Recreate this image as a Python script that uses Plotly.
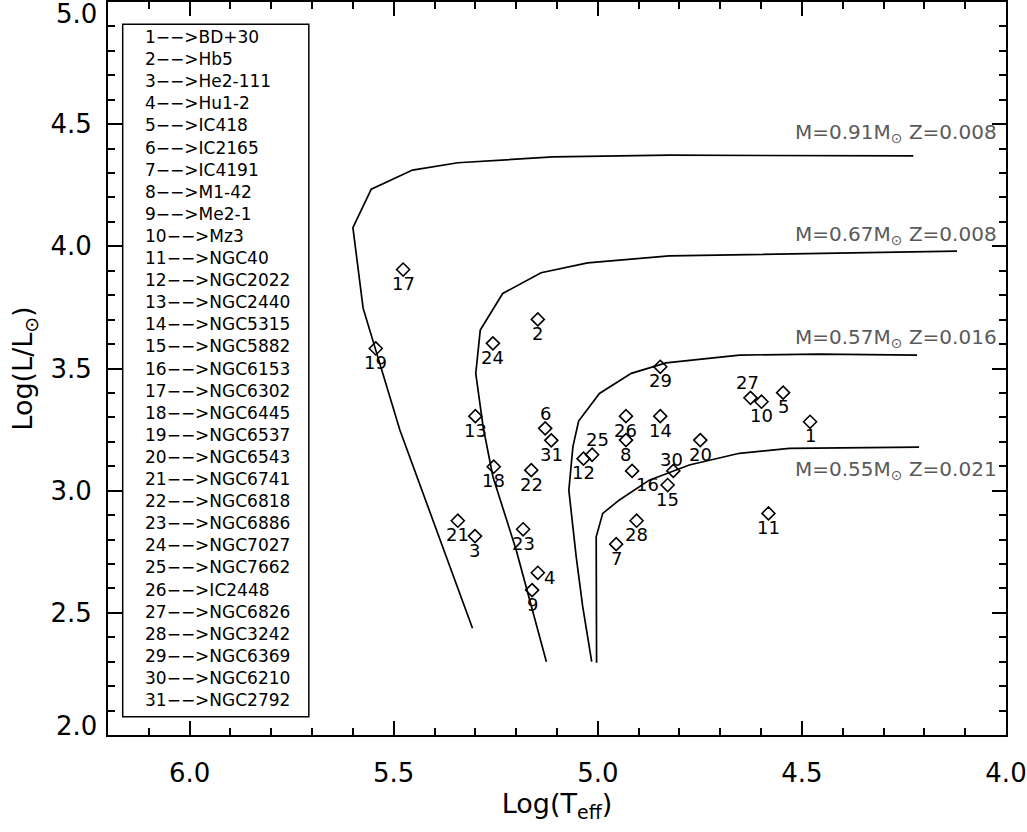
import plotly.graph_objects as go

# planetary nebulae: id, name, log Teff, log L/Lsun
pn_ids = list(range(1, 32))
pn_names = ["BD+30", "Hb5", "He2-111", "Hu1-2", "IC418", "IC2165", "IC4191",
            "M1-42", "Me2-1", "Mz3", "NGC40", "NGC2022", "NGC2440", "NGC5315",
            "NGC5882", "NGC6153", "NGC6302", "NGC6445", "NGC6537", "NGC6543",
            "NGC6741", "NGC6818", "NGC6886", "NGC7027", "NGC7662", "IC2448",
            "NGC6826", "NGC3242", "NGC6369", "NGC6210", "NGC2792"]
log_teff = [4.480, 5.147, 5.301, 5.147, 4.546, 5.129, 4.955, 4.931, 5.161, 4.599,
            4.582, 5.035, 5.300, 4.847, 4.829, 4.916, 5.477, 5.255, 5.544, 4.749,
            5.343, 5.163, 5.183, 5.257, 5.014, 4.931, 4.626, 4.905, 4.847, 4.815,
            5.114]
log_lum = [3.282, 3.701, 2.814, 2.664, 3.401, 3.255, 2.781, 3.207, 2.593, 3.364,
           2.907, 3.131, 3.305, 3.305, 3.023, 3.081, 3.905, 3.098, 3.582, 3.207,
           2.877, 3.084, 2.842, 3.603, 3.147, 3.305, 3.380, 2.877, 3.507, 3.081,
           3.206]

# post-AGB evolutionary tracks
trk091_x = [5.307, 5.485, 5.575, 5.600, 5.555, 5.454, 5.343, 5.110, 4.825, 4.227]
trk091_y = [2.437, 3.248, 3.747, 4.077, 4.234, 4.312, 4.342, 4.366, 4.373, 4.370]
trk067_x = [5.126, 5.200, 5.257, 5.281, 5.299, 5.288, 5.233, 5.139, 5.025, 4.825, 4.120]
trk067_y = [2.300, 2.757, 3.057, 3.261, 3.480, 3.657, 3.807, 3.892, 3.932, 3.961, 3.980]
trk057_x = [5.015, 5.037, 5.053, 5.071, 5.061, 5.047, 4.996, 4.918, 4.833, 4.653, 4.457, 4.218]
trk057_y = [2.300, 2.525, 2.730, 3.002, 3.180, 3.285, 3.398, 3.480, 3.523, 3.555, 3.559, 3.555]
trk055_x = [5.003, 5.004, 4.988, 4.947, 4.874, 4.776, 4.653, 4.531, 4.213]
trk055_y = [2.296, 2.811, 2.907, 2.962, 3.043, 3.105, 3.153, 3.173, 3.178]

tracks = [(trk091_x, trk091_y), (trk067_x, trk067_y),
          (trk057_x, trk057_y), (trk055_x, trk055_y)]
track_labels = ["M=0.91M<sub>⊙</sub> Z=0.008", "M=0.67M<sub>⊙</sub> Z=0.008",
                "M=0.57M<sub>⊙</sub> Z=0.016", "M=0.55M<sub>⊙</sub> Z=0.021"]
track_label_y = [4.463, 4.046, 3.624, 3.084]

# label offsets in pixels (most labels sit just below the symbol)
label_shift = {4: (12, 5), 6: (0, -15), 16: (15, 14), 25: (5, -15),
               27: (-3, -15), 30: (-2, -11)}

FONT = "DejaVu Sans"

fig = go.Figure()

for tx, ty in tracks:
    fig.add_trace(go.Scatter(x=tx, y=ty, mode="lines",
                             line=dict(color="black", width=1.7),
                             hoverinfo="skip"))

fig.add_trace(go.Scatter(
    x=log_teff, y=log_lum, mode="markers",
    marker=dict(symbol="diamond-open", size=10, color="black",
                line=dict(width=1.6, color="black")),
    text=pn_names, hovertemplate="%{text}<extra></extra>"))

annotations = []
for i, xv, yv in zip(pn_ids, log_teff, log_lum):
    dx, dy = label_shift.get(i, (0, 14))
    annotations.append(dict(x=xv, y=yv, text=str(i), showarrow=False,
                            xshift=dx, yshift=-dy,
                            font=dict(family=FONT, size=18, color="black")))

for lab, ly in zip(track_labels, track_label_y):
    annotations.append(dict(x=4.017, y=ly, text=lab, showarrow=False,
                            xanchor="right", yanchor="middle",
                            font=dict(family=FONT, size=20, color="#5a5a5a")))

# the legend of names inside the box
legend_text = "<br>".join(f"{i}\u2212\u2212>{n}" for i, n in zip(pn_ids, pn_names))
annotations.append(dict(x=6.114, y=3.499, text=legend_text, showarrow=False,
                        xanchor="left", yanchor="middle", align="left",
                        font=dict(family=FONT, size=17, color="black")))

# end labels of the y axis sit a little inside
annotations.append(dict(x=6.2, y=2.0, text="2.0", showarrow=False,
                        xanchor="right", xshift=-9, yshift=9,
                        font=dict(family=FONT, size=26, color="black")))
annotations.append(dict(x=6.2, y=5.0, text="5.0", showarrow=False,
                        xanchor="right", xshift=-9, yshift=-12,
                        font=dict(family=FONT, size=26, color="black")))

fig.add_shape(type="rect", x0=6.164, x1=5.708, y0=2.075, y1=4.909,
              line=dict(color="black", width=1.5))

axis_common = dict(showgrid=False, zeroline=False, showline=True,
                   linecolor="black", linewidth=2, mirror="ticks",
                   ticks="inside", ticklen=14, tickwidth=2, tickcolor="black",
                   automargin=False,
                   tickfont=dict(family=FONT, size=26, color="black"))

fig.update_layout(
    width=1027, height=832,
    margin=dict(l=108, r=21, t=2, b=97),
    paper_bgcolor="white", plot_bgcolor="white",
    showlegend=False,
    annotations=annotations,
    xaxis=dict(range=[6.2, 4.0], tickvals=[6.0, 5.5, 5.0, 4.5, 4.0],
               ticktext=["6.0", "5.5", "5.0", "4.5", "4.0"],
               minor=dict(ticks="inside", ticklen=7, tickwidth=2,
                          tickcolor="black", dtick=0.1, tick0=4.0),
               ticklabelstandoff=14,
               title=dict(text="Log(T<sub>eff</sub>)", standoff=0,
                          font=dict(family=FONT, size=27, color="black")),
               **axis_common),
    yaxis=dict(range=[2.0, 5.0], tickvals=[2.0, 2.5, 3.0, 3.5, 4.0, 4.5, 5.0],
               ticktext=["", "2.5", "3.0", "3.5", "4.0", "4.5", ""],
               minor=dict(ticks="inside", ticklen=7, tickwidth=2,
                          tickcolor="black", dtick=0.1, tick0=2.0),
               ticklabelstandoff=9,
               title=dict(text="Log(L/L<sub>⊙</sub>)", standoff=10,
                          font=dict(family=FONT, size=27, color="black")),
               **axis_common),
)

# drop the page's default body margin so the figure sits at the window corner
fig.write_html("out.html", config={"displayModeBar": False},
               post_script="document.body.style.margin='0';")
